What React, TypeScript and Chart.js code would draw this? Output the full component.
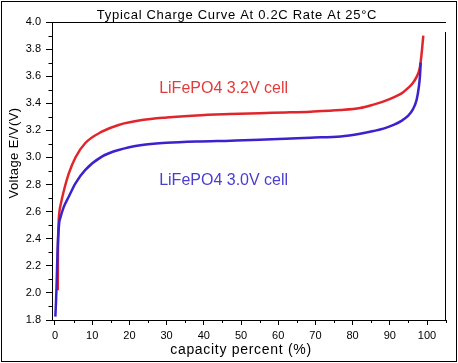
import React, { useEffect, useRef } from 'react';
import { Chart, registerables } from 'chart.js';

Chart.register(...registerables);

// ---- Data ----
const redX = [0.75, 0.8, 0.95, 1.2, 1.6, 2.3, 3.7, 5.5, 8.1, 12.6, 17.1, 23.4, 30, 38, 47, 55, 62, 68.7, 76.8, 82.0, 85.6, 88.0, 90.1, 92.0, 93.6, 95.0, 96.2, 97.2, 98.0, 98.4, 98.7, 99.0];
const redY = [2.02, 2.3, 2.5, 2.6, 2.66, 2.745, 2.88, 3.0, 3.105, 3.19, 3.24, 3.276, 3.295, 3.31, 3.32, 3.327, 3.332, 3.338, 3.35, 3.365, 3.39, 3.41, 3.432, 3.456, 3.482, 3.515, 3.55, 3.595, 3.655, 3.73, 3.81, 3.9];

const blueX = [0.1, 0.3, 0.45, 0.7, 1.15, 1.4, 2.3, 3.7, 5.5, 8.1, 12.6, 17.1, 23.4, 30, 38, 47.2, 55, 62, 68.7, 76.8, 82.0, 85.6, 88.5, 91.0, 93.0, 94.8, 96.2, 97.2, 97.8, 98.1, 98.3];
const blueY = [1.825, 1.95, 2.07, 2.317, 2.52, 2.55, 2.63, 2.71, 2.809, 2.907, 3.006, 3.055, 3.092, 3.108, 3.118, 3.124, 3.13, 3.138, 3.146, 3.155, 3.175, 3.195, 3.215, 3.24, 3.268, 3.305, 3.355, 3.425, 3.52, 3.6, 3.7];

const xTickValues = [0, 10, 20, 30, 40, 50, 60, 70, 80, 90, 100];
const xMinorTicks = [5, 15, 25, 35, 45, 55, 65, 75, 85, 95, 105];
const yMinorTicks = [1.9, 2.1, 2.3, 2.5, 2.7, 2.9, 3.1, 3.3, 3.5, 3.7, 3.9];

const titleText = 'Typical Charge Curve At 0.2C Rate At 25°C';
const redLabel = 'LiFePO4 3.2V cell';
const blueLabel = 'LiFePO4 3.0V cell';
const yTitle = 'Voltage E/V(V)';
const xTitle = 'capacity percent (%)';

const FONT = '"Liberation Sans", Arial, sans-serif';
const RED = '#e0262b';
const BLUE = '#3b22cc';
const RED_TEXT = '#e33b3b';
const BLUE_TEXT = '#4a3ecf';

const decor = {
  id: 'decor',
  afterDraw(chart: any) {
    const { ctx, chartArea, scales } = chart;
    const { left, right, top, bottom } = chartArea;
    const x = scales.x;
    const y = scales.y;
    ctx.save();
    ctx.strokeStyle = '#000';
    ctx.lineWidth = 1;
    ctx.beginPath();
    ctx.moveTo(left, Math.round(top) + 0.5);
    ctx.lineTo(right, Math.round(top) + 0.5);
    ctx.moveTo(Math.round(right) - 0.5, top + 10);
    ctx.lineTo(Math.round(right) - 0.5, bottom);
    for (const v of yMinorTicks) {
      const py = Math.round(y.getPixelForValue(v)) + 0.5;
      ctx.moveTo(left - 3.5, py);
      ctx.lineTo(left, py);
    }
    for (const v of xMinorTicks) {
      const px = Math.round(x.getPixelForValue(v)) + 0.5;
      ctx.moveTo(px, bottom);
      ctx.lineTo(px, bottom + 3);
    }
    ctx.stroke();
    ctx.strokeRect(1.5, 1.5, chart.width - 3, chart.height - 3);

    ctx.fillStyle = '#000';
    ctx.font = '13px ' + FONT;
    ctx.letterSpacing = '0.7px';
    ctx.textAlign = 'center';
    ctx.textBaseline = 'alphabetic';
    ctx.fillText(titleText, 237, 19);

    // x-axis title
    ctx.font = '14px ' + FONT;
    ctx.letterSpacing = '0.7px';
    ctx.textBaseline = 'middle';
    ctx.fillText(xTitle, 241, 350);

    // y-axis title
    ctx.save();
    ctx.translate(14, 153);
    ctx.rotate(-Math.PI / 2);
    ctx.font = '13px ' + FONT;
    ctx.letterSpacing = '0.4px';
    ctx.fillText(yTitle, 0, 0);
    ctx.restore();

    ctx.letterSpacing = '0px';
    ctx.font = '16px ' + FONT;
    ctx.textAlign = 'left';
    ctx.textBaseline = 'alphabetic';
    ctx.fillStyle = RED_TEXT;
    ctx.fillText(redLabel, x.getPixelForValue(28), y.getPixelForValue(3.474));
    ctx.fillStyle = BLUE_TEXT;
    ctx.fillText(blueLabel, x.getPixelForValue(28), y.getPixelForValue(2.797));
    ctx.restore();
  },
};

export default function App() {
  const ref = useRef<HTMLCanvasElement | null>(null);

  useEffect(() => {
    if (!ref.current) return;
    Chart.defaults.font.family = FONT;
    const chart = new Chart(ref.current, {
      type: 'line',
      data: {
        datasets: [
          {
            label: blueLabel,
            data: blueX.map((v, i) => ({ x: v, y: blueY[i] })),
            borderColor: BLUE,
            borderWidth: 2.5,
            pointRadius: 0,
            cubicInterpolationMode: 'monotone',
            fill: false,
          },
          {
            label: redLabel,
            data: redX.map((v, i) => ({ x: v, y: redY[i] })),
            borderColor: RED,
            borderWidth: 2.5,
            pointRadius: 0,
            cubicInterpolationMode: 'monotone',
            fill: false,
          },
        ],
      },
      options: {
        responsive: false,
        animation: false,
        devicePixelRatio: 1,
        layout: { padding: { left: 0, top: 22, right: 12, bottom: 0 } },
        plugins: { legend: { display: false }, tooltip: { enabled: false }, title: { display: false } },
        scales: {
          x: {
            type: 'linear',
            min: -0.8,
            max: 105.1,
            afterBuildTicks: (s: any) => {
              s.ticks = xTickValues.map((v) => ({ value: v }));
            },
            afterFit: (s: any) => {
              s.height = 43;
            },
            ticks: { font: { size: 11 }, color: '#000', padding: 4, autoSkip: false, maxRotation: 0 },
            grid: { drawOnChartArea: false, drawTicks: true, tickLength: 5, color: '#000' },
            border: { display: true, color: '#000', width: 1 },
            title: { display: false, text: xTitle },
          },
          y: {
            type: 'linear',
            min: 1.8,
            max: 4.0,
            afterFit: (s: any) => {
              s.width = 52;
            },
            ticks: {
              stepSize: 0.2,
              font: { size: 11 },
              color: '#000',
              padding: 5,
              callback: (v: any) => Number(v).toFixed(1),
            },
            grid: { drawOnChartArea: false, drawTicks: true, tickLength: 6, color: '#000' },
            border: { display: true, color: '#000', width: 1 },
            title: { display: false, text: yTitle },
          },
        },
      },
      plugins: [decor],
    } as any);
    return () => chart.destroy();
  }, []);

  return (
    <div style={{ position: 'absolute', left: 0, top: 0, width: 458, height: 363, background: '#fff' }}>
      <canvas ref={ref} width={458} height={363} style={{ display: 'block' }} />
    </div>
  );
}
